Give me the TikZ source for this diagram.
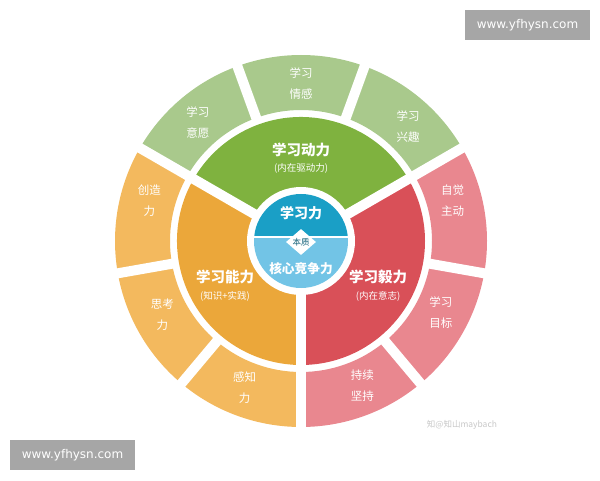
\documentclass[tikz,border=0pt]{standalone}
\usepackage{fontspec}
\setmainfont{Noto Sans CJK SC}
\newfontfamily\webfont{DejaVu Sans}
\usetikzlibrary{calc,shapes.geometric}
\definecolor{ringgreen}{HTML}{A9C98C}
\definecolor{midgreen}{HTML}{7FB23F}
\definecolor{ringorange}{HTML}{F3B95E}
\definecolor{midorange}{HTML}{EBA73A}
\definecolor{ringred}{HTML}{E9878F}
\definecolor{midred}{HTML}{D95058}
\definecolor{topblue}{HTML}{1A9FC6}
\definecolor{lowblue}{HTML}{72C4E6}
\definecolor{markgray}{HTML}{A6A6A6}
\tikzset{
  ringlabel/.style={text=white,align=center,font=\fontsize{11.5}{21}\selectfont},
  mainlabel/.style={text=white,font=\fontsize{14.5}{16}\selectfont\bfseries},
  sublabel/.style={text=white,font=\fontsize{9.5}{11}\selectfont},
  webmark/.style={fill=markgray,text=white,minimum width=125,minimum height=30,inner sep=0,font=\webfont\fontsize{12}{14}\selectfont}
}
\begin{document}
\begin{tikzpicture}[x=1pt,y=1pt]
	\useasboundingbox (0,0) rectangle (600,480);
	\coordinate(O) at (301,239);
	
	% outer ring
	\foreach \a/\c in {90/ringgreen,50/ringgreen,130/ringgreen,10/ringred,-30/ringred,-70/ringred,-110/ringorange,-150/ringorange,170/ringorange}{
		\fill[\c] ($(O)+(\a-20:186)$) arc[start angle=\a-20,end angle=\a+20,radius=186] -- ($(O)+(\a+20:131)$) arc[start angle=\a+20,end angle=\a-20,radius=131] -- cycle;
	}
	\foreach \b in {110,70,30,-10,-50,-90,-130,-170,150}
		\draw[white,line width=10] ($(O)+(\b:120)$) -- ($(O)+(\b:195)$);
	
	% middle sectors
	\fill[midgreen] (O) -- ($(O)+(30:124)$) arc[start angle=30,end angle=150,radius=124] -- cycle;
	\fill[midorange] (O) -- ($(O)+(150:124)$) arc[start angle=150,end angle=270,radius=124] -- cycle;
	\fill[midred] (O) -- ($(O)+(270:124)$) arc[start angle=270,end angle=390,radius=124] -- cycle;
	\foreach \b in {30,150,270}
		\draw[white,line width=10] (O) -- ($(O)+(\b:126)$);
	
	% centre
	\fill[white] (O) circle (54);
	\begin{scope}
		\clip (O) circle (47);
		\fill[lowblue] ($(O)+(-50,-50)$) rectangle ($(O)+(50,4)$);
		\fill[topblue] ($(O)+(-50,4)$) rectangle ($(O)+(50,50)$);
	\end{scope}
	\draw[white,line width=2] ($(O)+(-47,4)$) -- ($(O)+(47,4)$);
	\node[diamond,fill=white,minimum width=30,minimum height=26,inner sep=0,text=topblue!60!black,font=\fontsize{8.5}{9}\selectfont] (essence) at ($(O)+(0,-1)$) {本质};
	\node[mainlabel,font=\fontsize{14}{16}\selectfont\bfseries] (power) at ($(O)+(0,28)$) {学习力};
	\node[mainlabel,font=\fontsize{12.7}{15}\selectfont\bfseries] (compete) at ($(O)+(0,-28)$) {核心竞争力};
	
	% sector labels
	\node[mainlabel] (drive) at ($(O)+(0,91)$) {学习动力};
	\node[sublabel] (drivesub) at ($(O)+(0,73)$) {(内在驱动力)};
	\node[mainlabel] (ability) at ($(O)+(-76,-36)$) {学习能力};
	\node[sublabel] (abilitysub) at ($(O)+(-76,-55)$) {(知识+实践)};
	\node[mainlabel] (grit) at ($(O)+(77,-36)$) {学习毅力};
	\node[sublabel] (gritsub) at ($(O)+(77,-55)$) {(内在意志)};
	
	% ring labels
	\foreach \a/\t [count=\i] in {131/学习\\意愿,90/学习\\情感,47/学习\\兴趣,15/自觉\\主动,-27/学习\\目标,-67/持续\\坚持,-111/感知\\力,-152/思考\\力,165/创造\\力}
		\node[ringlabel] (ring\i) at ($(O)+(\a:157)$) {\t};
	
	% watermarks
	\node[webmark] (marktop) at (527.5,455) {www.yfhysn.com};
	\node[webmark] (markbottom) at (72.5,25) {www.yfhysn.com};
	\node[text=black!22,font=\fontsize{8.5}{10}\selectfont] (zhihu) at (462,55) {知@知山maybach};
\end{tikzpicture}
\end{document}
